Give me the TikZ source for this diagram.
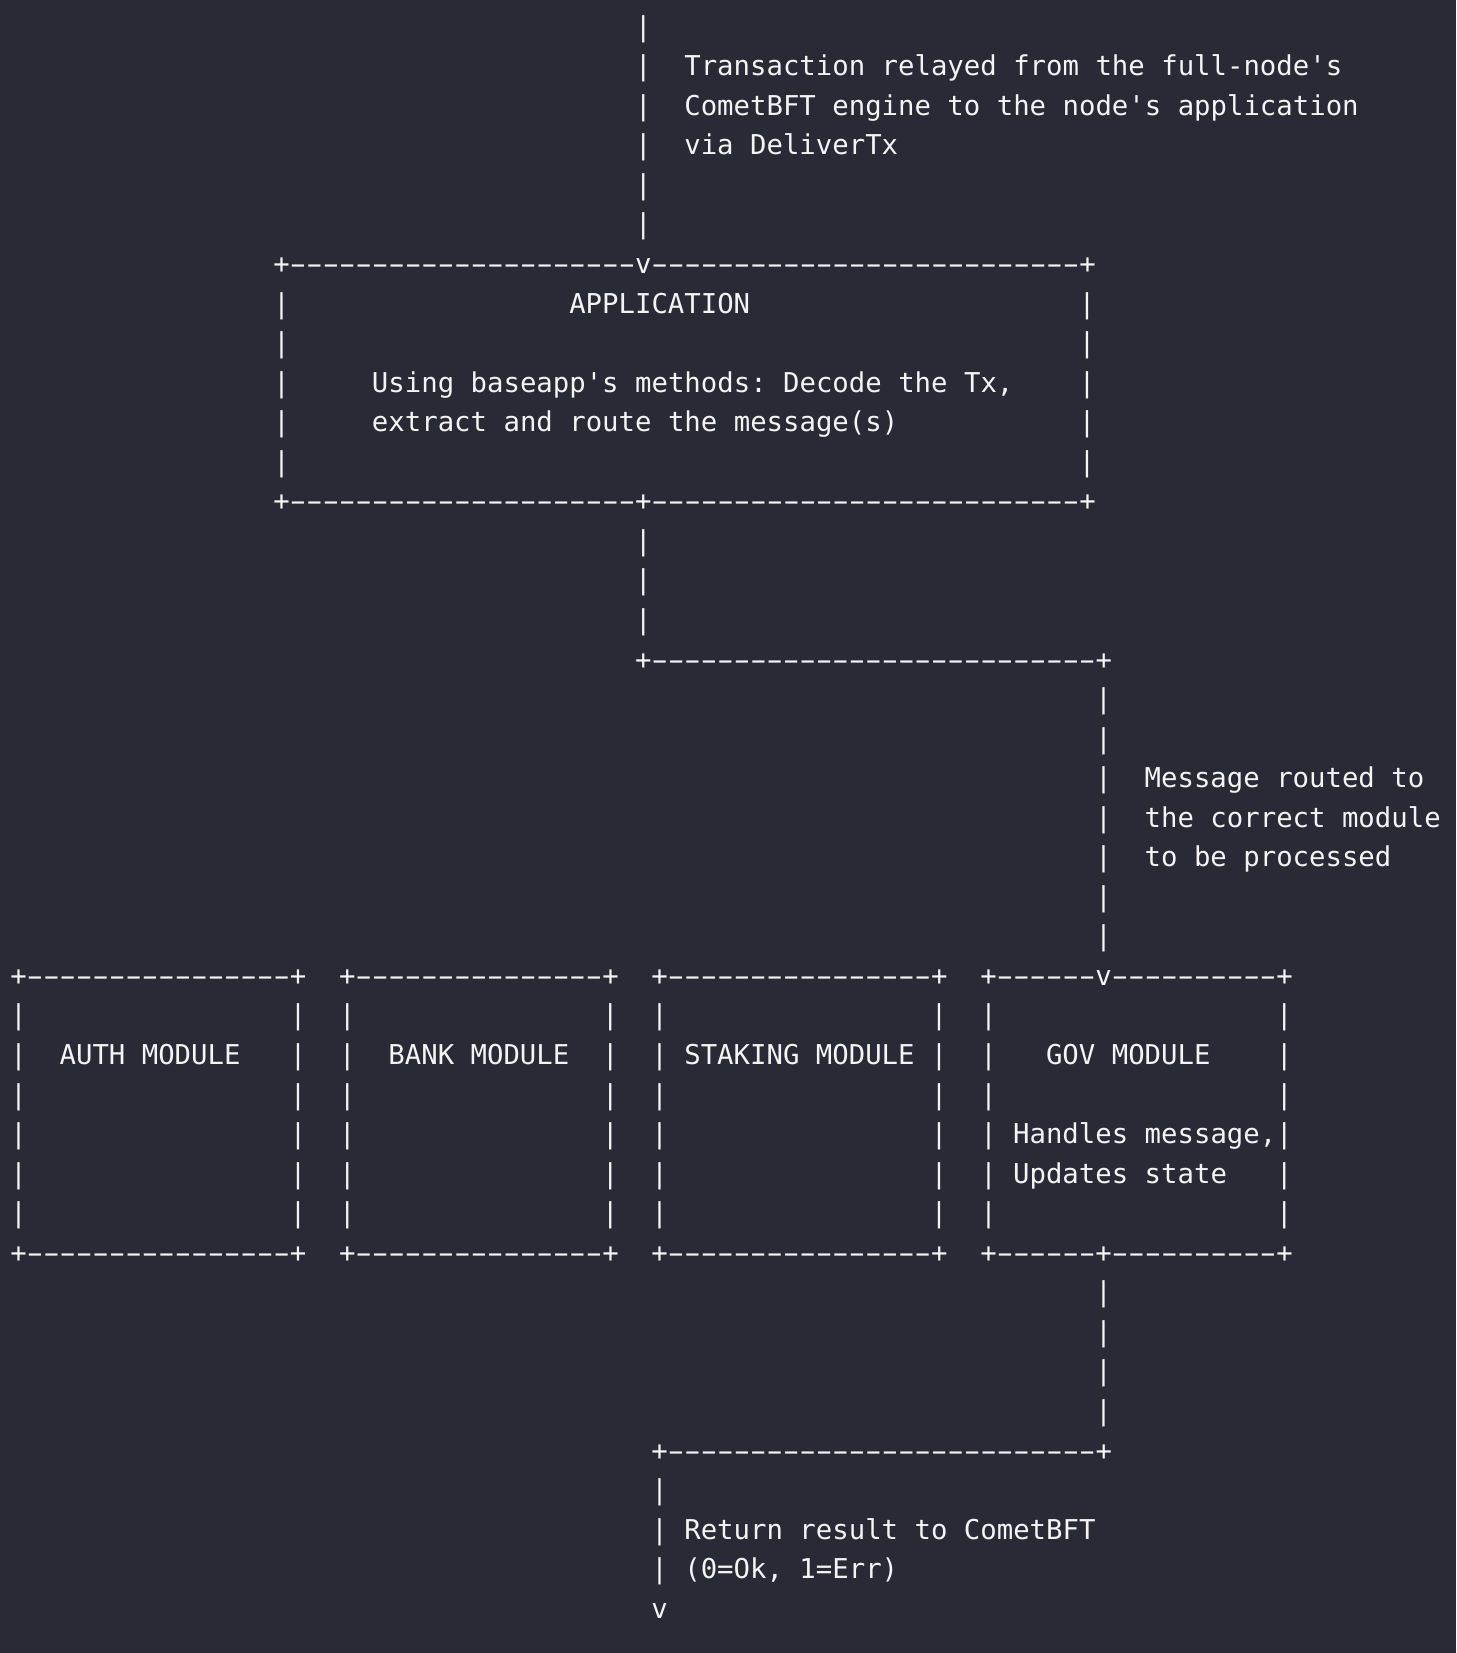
\documentclass[tikz,border=0pt]{standalone}
\usepackage{fontspec}
\usepackage{graphicx}
\setmonofont{DejaVu Sans Mono}
\definecolor{bg}{RGB}{40,42,54}
\definecolor{fg}{RGB}{244,244,244}
\tikzset{asc/.style={anchor=base west, inner sep=0pt, outer sep=0pt, text=fg,
  font=\ttfamily\fontsize{13.66pt}{16pt}\selectfont\frenchspacing}}
\newcommand\txt[4]{\node[asc] (#1) at ({10.3+#2*16.44},{36.2+#3*39.55}) {#4};}
% a hyphen widened to fill its cell, as in the reference rendering
\newcommand\hy{\makebox[\fontcharwd\font`\-][c]{\scalebox{1.75}[1]{-}}}
\newcommand\hyn[1]{\foreach \hyi in {1,...,#1}{\hy}}
\begin{document}
\begin{tikzpicture}[x=0.5pt,y=-0.5pt]
\fill[bg] (0,0) rectangle (1456,1653);
\useasboundingbox (0,0) rectangle (1456,1653);
% incoming transaction
\foreach \r in {0,...,5} {\txt{in\r}{38}{\r}{|}}
\txt{t1}{41}{1}{Transaction relayed from the full-node's}
\txt{t2}{41}{2}{CometBFT engine to the node's application}
\txt{t3}{41}{3}{via DeliverTx}
% application box
\txt{apptop}{16}{6}{+\hyn{21}v\hyn{26}+}
\foreach \r in {7,...,11} {\txt{appl\r}{16}{\r}{|}\txt{appr\r}{65}{\r}{|}}
\txt{apptitle}{34}{7}{APPLICATION}
\txt{appt1}{22}{9}{Using baseapp's methods: Decode the Tx,}
\txt{appt2}{22}{10}{extract and route the message(s)}
\txt{appbot}{16}{12}{+\hyn{21}+\hyn{26}+}
% route to module
\foreach \r in {13,14,15} {\txt{dn\r}{38}{\r}{|}}
\txt{hline1}{38}{16}{+\hyn{27}+}
\foreach \r in {17,...,23} {\txt{rt\r}{66}{\r}{|}}
\txt{m1}{69}{19}{Message routed to}
\txt{m2}{69}{20}{the correct module}
\txt{m3}{69}{21}{to be processed}
% modules
\txt{authtop}{0}{24}{+\hyn{16}+}
\txt{banktop}{20}{24}{+\hyn{15}+}
\txt{staketop}{39}{24}{+\hyn{16}+}
\txt{govtop}{59}{24}{+\hyn{6}v\hyn{10}+}
\foreach \r in {25,...,30} {\foreach \c in {0,17,20,36,39,56,59,77} {\txt{b\r c\c}{\c}{\r}{|}}}
\txt{auth}{3}{26}{AUTH MODULE}
\txt{bank}{23}{26}{BANK MODULE}
\txt{stake}{41}{26}{STAKING MODULE}
\txt{gov}{63}{26}{GOV MODULE}
\txt{gov1}{61}{28}{Handles message,}
\txt{gov2}{61}{29}{Updates state}
\txt{authbot}{0}{31}{+\hyn{16}+}
\txt{bankbot}{20}{31}{+\hyn{15}+}
\txt{stakebot}{39}{31}{+\hyn{16}+}
\txt{govbot}{59}{31}{+\hyn{6}+\hyn{10}+}
% return
\foreach \r in {32,...,35} {\txt{up\r}{66}{\r}{|}}
\txt{hline2}{39}{36}{+\hyn{26}+}
\foreach \r in {37,38,39} {\txt{ret\r}{39}{\r}{|}}
\txt{r1}{41}{38}{Return result to CometBFT}
\txt{r2}{41}{39}{(0=Ok, 1=Err)}
\txt{out}{39}{40}{v}
\end{tikzpicture}
\end{document}
